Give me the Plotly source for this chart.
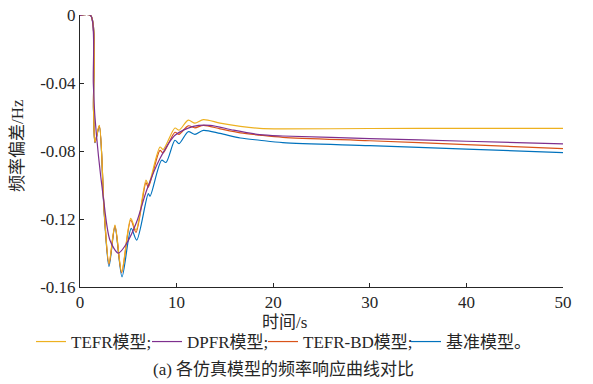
import plotly.graph_objects as go

# TEFR model
t_tefr = [0, 1.1, 1.4, 1.55, 2.0, 2.5, 3.0, 3.62, 4.31, 5.25, 5.8, 6.83, 7.07, 8.28, 8.6,
          9.83, 10.25, 11.2, 11.9, 12.77, 14.5, 16.6, 18.6, 21, 30, 40, 50]
f_tefr = [0, 0, -0.055, -0.0745, -0.0647, -0.115, -0.146, -0.1235, -0.151, -0.1196, -0.1265,
          -0.097, -0.0997, -0.0775, -0.079, -0.0663, -0.0676, -0.0617, -0.0634, -0.0614,
          -0.0634, -0.0653, -0.0665, -0.0668, -0.0666, -0.0665, -0.0665]

# DPFR model
t_dpfr = [0, 1.1, 1.38, 1.55, 2.41, 3.1, 3.97, 4.83, 5.87, 6.9, 8.28, 9.83, 11.73, 13.46,
          15.9, 18.6, 21, 30, 40, 50]
f_dpfr = [0, 0, -0.040, -0.060, -0.107, -0.1324, -0.140, -0.1343, -0.1216, -0.103, -0.0843,
          -0.0706, -0.0653, -0.0647, -0.0676, -0.0702, -0.071, -0.0725, -0.0741, -0.0757]

# TEFR-BD model
t_bd = [0, 1.1, 1.4, 1.55, 2.0, 2.5, 3.0, 3.62, 4.31, 5.25, 5.8, 6.83, 7.07, 8.28, 8.6,
        9.83, 10.25, 11.2, 11.9, 12.77, 14.5, 16.6, 18.6, 21, 30, 40, 50]
f_bd = [0, 0, -0.055, -0.0748, -0.065, -0.115, -0.1465, -0.124, -0.1515, -0.1205, -0.1278,
        -0.0985, -0.1012, -0.0795, -0.081, -0.0688, -0.0700, -0.0650, -0.0662, -0.0647,
        -0.0668, -0.0692, -0.0705, -0.0718, -0.0738, -0.0761, -0.0784]

# Reference (base) model
t_base = [0, 1.1, 1.4, 1.55, 2.0, 2.5, 3.0, 3.62, 4.35, 5.3, 5.87, 7.07, 7.25, 8.45, 8.9,
          9.83, 10.25, 11.2, 11.9, 12.77, 14.5, 16.6, 18.6, 21, 30, 40, 50]
f_base = [0, 0, -0.056, -0.075, -0.0655, -0.116, -0.148, -0.1245, -0.154, -0.1255, -0.1324,
          -0.105, -0.1065, -0.0853, -0.0866, -0.0735, -0.0755, -0.0685, -0.0700, -0.0677,
          -0.0695, -0.0722, -0.0735, -0.0749, -0.0767, -0.0787, -0.0808]

x_ticks = [0, 10, 20, 30, 40, 50]
y_ticks = [0, -0.04, -0.08, -0.12, -0.16]
y_tick_labels = ["0", "-0.04", "-0.08", "-0.12", "-0.16"]

names = ["TEFR模型;", "DPFR模型;", "TEFR-BD模型;", "基准模型。"]
colors = ["#EDB120", "#7E2F8E", "#D95319", "#0072BD"]

FONT = "Liberation Serif, Noto Sans CJK SC, serif"

# pixel layout of the figure
PL, PR, PT, PB = 80, 563, 15, 287
PW, PH = PR - PL, PB - PT
legend_left_px = [31, 147, 263, 406]
legend_ids = ["legend", "legend2", "legend3", "legend4"]

fig = go.Figure()
# drawing order: base, TEFR-BD, TEFR, DPFR
series = [
    (t_base, f_base, 3),
    (t_bd, f_bd, 2),
    (t_tefr, f_tefr, 0),
    (t_dpfr, f_dpfr, 1),
]
for t, f, i in series:
    fig.add_trace(go.Scatter(
        x=t, y=f, mode="lines", name=names[i], legend=legend_ids[i],
        line=dict(color=colors[i], width=1.2, shape="spline", smoothing=0.8),
    ))

legend_layouts = {}
for i, lid in enumerate(legend_ids):
    legend_layouts[lid] = dict(
        orientation="h", xref="paper", yref="paper",
        x=(legend_left_px[i] - PL) / PW, xanchor="left",
        y=(PB - 342) / PH, yanchor="middle",
        font=dict(family=FONT, size=17, color="#262626"), itemwidth=30,
        bgcolor="rgba(0,0,0,0)",
    )

fig.update_layout(
    width=593, height=384,
    margin=dict(l=PL, r=593 - PR, t=PT, b=384 - PB, autoexpand=False),
    paper_bgcolor="white", plot_bgcolor="white",
    font=dict(family=FONT, size=17, color="#262626"),
    showlegend=True,
    annotations=[
        dict(text="时间/s", xref="paper", yref="paper", x=(284 - PL) / PW,
             y=(PB - 322) / PH, xanchor="center", yanchor="middle", showarrow=False,
             font=dict(size=17)),
        dict(text="(a) 各仿真模型的频率响应曲线对比", xref="paper", yref="paper",
             x=(283 - PL) / PW, y=(PB - 369) / PH, xanchor="center", yanchor="middle",
             showarrow=False, font=dict(size=17)),
        dict(text="频率偏差/Hz", xref="paper", yref="paper", x=(17 - PL) / PW,
             y=(PB - 146) / PH, xanchor="center", yanchor="middle", showarrow=False,
             textangle=-90, font=dict(size=17)),
    ],
    **legend_layouts,
)
fig.update_xaxes(range=[0, 50], tickvals=x_ticks, showgrid=False, zeroline=False,
                 showline=True, linecolor="#262626", linewidth=1,
                 ticks="inside", ticklen=4, tickcolor="#262626",
                 tickfont=dict(size=17), automargin=False)
fig.update_yaxes(range=[-0.16, 0.0003], tickvals=y_ticks, ticktext=y_tick_labels,
                 showgrid=False, zeroline=False,
                 showline=True, linecolor="#262626", linewidth=1,
                 ticks="inside", ticklen=4, tickcolor="#262626",
                 tickfont=dict(size=17), automargin=False)

fig.write_html("out.html", config={"displayModeBar": False},
               post_script="document.body.style.margin='0';")
